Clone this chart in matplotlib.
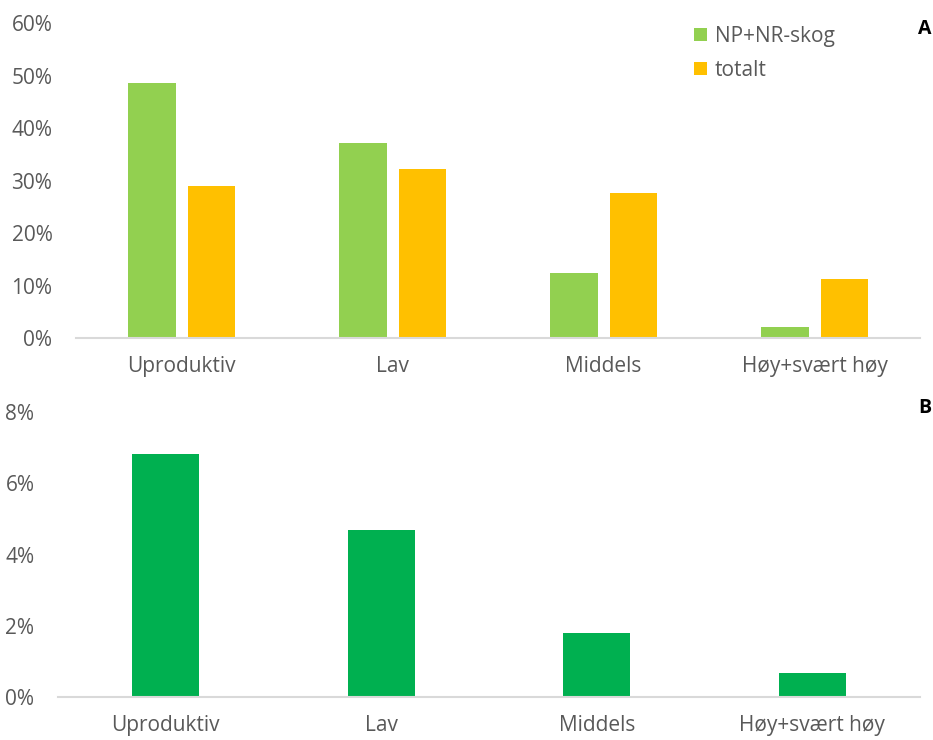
import matplotlib.pyplot as plt
import numpy as np
from matplotlib.ticker import FuncFormatter

plt.rcParams['font.family'] = ['Open Sans', 'DejaVu Sans']

# data
categories = ['Uproduktiv', 'Lav', 'Middels', 'Høy+svært høy']
np_nr_skog = [48.6, 37.1, 12.4, 2.1]
totalt = [29.0, 32.2, 27.6, 11.2]
andel_b = [6.82, 4.69, 1.80, 0.68]

grey = '#595959'
fig = plt.figure(figsize=(9.33, 7.4), dpi=100)

# panel A
ax1 = fig.add_axes([0.0815, 0.5432, 0.9046, 0.4257])
x = np.arange(len(categories))
w = 0.227
gap = 0.057
ax1.bar(x - (w + gap) / 2, np_nr_skog, w, color='#92D050', label='NP+NR-skog')
ax1.bar(x + (w + gap) / 2, totalt, w, color='#FFC000', label='totalt')
ax1.set_ylim(0, 60)
ax1.set_yticks(range(0, 61, 10))
ax1.set_xlim(-0.5, 3.5)
ax1.set_xticks(x)
ax1.set_xticklabels(categories)
ax1.yaxis.set_major_formatter(FuncFormatter(lambda v, p: f'{v:.0f}%'))
leg = ax1.legend(loc='upper left', bbox_to_anchor=(0.71, 1.05), frameon=False,
                 fontsize=15, handlelength=0.6, handleheight=0.6,
                 handletextpad=0.4, labelspacing=0.62, labelcolor=grey)
fig.text(0.998, 0.961, 'A', fontsize=14, fontweight='bold', ha='right', va='center')

# panel B
ax2 = fig.add_axes([0.0622, 0.0581, 0.9239, 0.3851])
ax2.bar(x, andel_b, 0.31, color='#00B050')
ax2.set_ylim(0, 8)
ax2.set_yticks(range(0, 9, 2))
ax2.set_xlim(-0.5, 3.5)
ax2.set_xticks(x)
ax2.set_xticklabels(categories)
ax2.yaxis.set_major_formatter(FuncFormatter(lambda v, p: f'{v:.0f}%'))
fig.text(0.998, 0.449, 'B', fontsize=14, fontweight='bold', ha='right', va='center')

for ax in (ax1, ax2):
    for s in ('top', 'right', 'left'):
        ax.spines[s].set_visible(False)
    ax.spines['bottom'].set_color('#D9D9D9')
    ax.spines['bottom'].set_linewidth(1.5)
    ax.tick_params(length=0, labelsize=15, colors=grey)
    ax.tick_params(axis='x', pad=13)
    ax.tick_params(axis='y', pad=17)

fig.savefig('out.png', dpi=100)
